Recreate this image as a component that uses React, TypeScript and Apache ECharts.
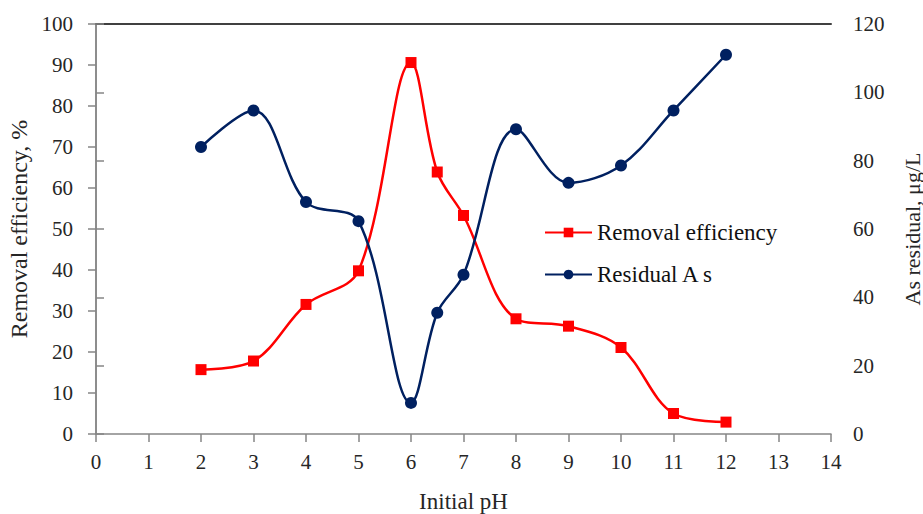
import React, { useEffect, useRef } from "react";
import * as echarts from "echarts";

const phValues = [2, 3, 4, 5, 6, 6.5, 7, 8, 9, 10, 11, 12];
const removalEfficiency = [15.7, 17.8, 31.6, 39.8, 90.6, 63.9, 53.3, 28.1, 26.3, 21.1, 5.0, 2.9];
const residualAs = [84.0, 94.7, 67.9, 62.3, 9.1, 35.5, 46.6, 89.2, 73.5, 78.6, 94.7, 111.0];
const seriesNames = ["Removal efficiency", "Residual A s"];

const FONT = "'Liberation Serif', 'Times New Roman', serif";
const RED = "#ff0000";
const NAVY = "#002060";
const AXIS_GRAY = "#868686";
const TEXT = "#262626";

export default function App() {
  const ref = useRef<HTMLDivElement>(null);
  useEffect(() => {
    if (!ref.current) return;
    const chart = echarts.init(ref.current, undefined, { renderer: "svg" });
    const labelStyle = { fontFamily: FONT, fontSize: 21, color: TEXT };
    chart.setOption({
      animation: false,
      backgroundColor: "#ffffff",
      grid: { left: 96, right: 92, top: 24, bottom: 80, containLabel: false, outerBoundsMode: "none" },
      legend: {
        orient: "vertical",
        left: 539,
        top: 216,
        itemWidth: 47,
        itemHeight: 12,
        itemGap: 19,
        textStyle: { fontFamily: FONT, fontSize: 23, color: "#111" },
        data: seriesNames,
      },
      xAxis: [
        {
          type: "value",
          min: 0,
          max: 14,
          interval: 1,
          name: "Initial pH",
          nameLocation: "middle",
          nameGap: 56,
          nameTextStyle: { fontFamily: FONT, fontSize: 23, color: TEXT, verticalAlign: "top" },
          axisLine: { show: true, lineStyle: { color: AXIS_GRAY, width: 1.5 } },
          axisTick: { show: true, length: 8, inside: false, lineStyle: { color: AXIS_GRAY, width: 1.5 } },
          axisLabel: { ...labelStyle, margin: 17 },
          splitLine: { show: false },
        },
        {
          type: "value",
          position: "top",
          min: 0,
          max: 14,
          interval: 1,
          axisLine: { show: true, onZero: false, lineStyle: { color: "#404040", width: 2 } },
          axisTick: { show: false },
          axisLabel: { show: false },
          splitLine: { show: false },
        },
      ],
      yAxis: [
        {
          type: "value",
          min: 0,
          max: 100,
          interval: 10,
          position: "left",
          name: "Removal efficiency, %",
          nameLocation: "middle",
          nameGap: 76,
          nameRotate: 90,
          nameTextStyle: { fontFamily: FONT, fontSize: 24, color: TEXT, verticalAlign: "middle" },
          axisLine: { show: true, lineStyle: { color: AXIS_GRAY, width: 1.5 } },
          axisTick: { show: true, length: 8, lineStyle: { color: AXIS_GRAY, width: 1.5 } },
          axisLabel: { ...labelStyle, margin: 23 },
          splitLine: { show: false },
        },
        {
          type: "value",
          min: 0,
          max: 120,
          interval: 20,
          position: "right",
          name: "As residual, μg/L",
          nameLocation: "middle",
          nameGap: 81,
          nameRotate: 90,
          nameTextStyle: { fontFamily: FONT, fontSize: 22, color: TEXT, verticalAlign: "middle" },
          axisLine: { show: true, lineStyle: { color: AXIS_GRAY, width: 1.5 } },
          axisTick: { show: true, length: 8, lineStyle: { color: AXIS_GRAY, width: 1.5 } },
          axisLabel: { ...labelStyle, margin: 22 },
          splitLine: { show: false },
        },
      ],
      series: [
        {
          name: seriesNames[0],
          type: "line",
          xAxisIndex: 0,
          yAxisIndex: 0,
          smooth: 0.35,
          symbol: "rect",
          symbolSize: 11,
          lineStyle: { color: RED, width: 2.5 },
          itemStyle: { color: RED },
          data: phValues.map((x, i) => [x, removalEfficiency[i]]),
        },
        {
          name: seriesNames[1],
          type: "line",
          xAxisIndex: 0,
          yAxisIndex: 1,
          smooth: 0.35,
          symbol: "circle",
          symbolSize: 12,
          lineStyle: { color: NAVY, width: 2.5 },
          itemStyle: { color: NAVY },
          data: phValues.map((x, i) => [x, residualAs[i]]),
        },
      ],
    });
    return () => chart.dispose();
  }, []);
  return (
    <div
      ref={ref}
      style={{ position: "fixed", left: 0, top: 0, width: 923, height: 514, background: "#fff" }}
    />
  );
}
